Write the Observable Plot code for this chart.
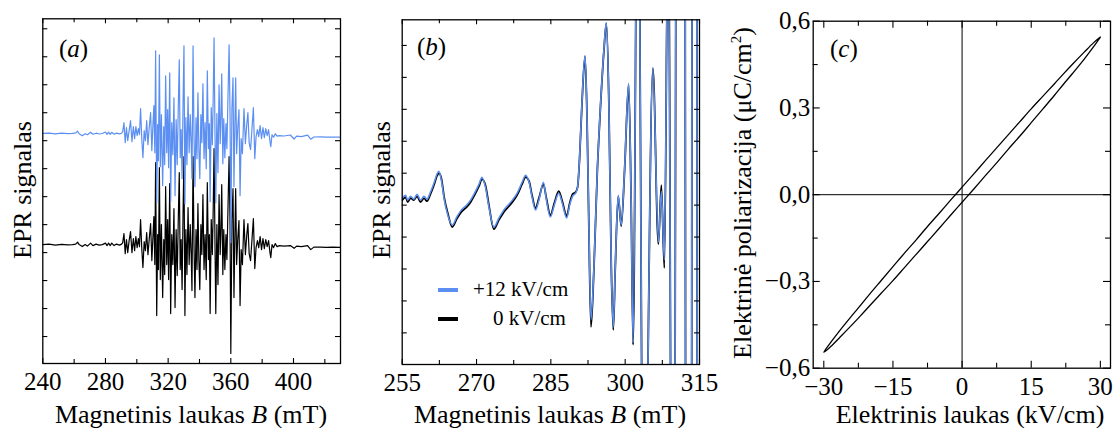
<!DOCTYPE html>
<html><head><meta charset="utf-8">
<script src="https://cdn.jsdelivr.net/npm/d3@7"></script>
<script src="https://cdn.jsdelivr.net/npm/@observablehq/plot@0.6"></script>
<style>
body{margin:0;background:#fff;}
#fig{position:relative;width:1114px;height:428px;font-family:"Liberation Serif","Times New Roman",serif;color:#000;overflow:hidden;}
.panel{position:absolute;top:0;}
.lab{position:absolute;font-size:25px;line-height:25px;white-space:nowrap;}
.title{font-size:26px;}
.legt{font-size:21px;line-height:21px;}
.rot{transform:translate(-50%,-50%) rotate(-90deg);}
.hc{transform:translateX(-50%);}
.leg{position:absolute;height:4px;width:20px;}
</style></head><body><div id="fig"></div>
<script>
const BLUE = "#5b8ff2";
// ---------- Panel (a): EPR spectra, full field range (arbitrary units) ----------
const fieldA = [240,244,248,252,256,259,261,262.2,263.2,265.2,267,268.5,270.5,272,274,276,278,280,281,282,283,284,285.5,287,289,290.3,
291.0,291.8,292.6,293.4,294.2,295.1,296.0,296.9,297.8,298.6,
299.4,300.2,301.0,301.7,302.4,303.2,303.9,304.7,305.5,306.3,
307.1,307.9,308.8,309.6,310.3,310.9,311.5,312.0,312.7,313.3,
313.8,314.4,315.0,315.7,316.5,317.2,317.8,318.4,319.1,319.7,
320.3,321.0,321.6,322.3,323.0,323.7,324.4,325.1,325.8,326.4,
327.1,327.7,328.3,328.9,329.5,330.1,330.7,331.3,332.0,332.7,
333.4,334.1,334.7,335.2,335.9,336.5,337.1,337.8,338.4,339.0,
339.6,340.2,340.9,341.5,342.2,342.9,343.6,344.3,345.0,345.7,
346.3,346.8,347.5,348.2,348.7,349.3,349.9,350.4,351.1,351.8,
352.5,353.2,353.7,354.2,354.9,355.5,356.2,356.9,357.5,358.1,
358.9,359.5,360.0,360.7,361.4,362.0,362.6,363.1,363.7,364.4,
365.2,365.9,366.6,367.4,368.4,369.3,370.2,370.9,371.7,372.6,
373.5,374.4,375.3,376.1,377.0,377.8,378.7,379.6,380.5,381.4,
382.3,383.2,384.1,385.0,385.5,
386.3,387.3,388.4,389.5,391,394,398,400.4,402,405,409,411,413,417,421,425,430];
// 0 kV/cm (black)
const signalA0 = [0,0.5,-0.5,0.3,-0.3,0,0.5,2.5,0,-2,0,-1.5,1.5,-1,0.5,-0.5,0,1.5,-1,1.5,-1,1.5,-1,0.5,-0.5,0.5,
2,11,-9,5,-8,4,13,-8,6,-6,
8,-3,6,-2,25,-5,-23,3,-6,12,
-10,5,21,-16,8,28,-20,82,-71,10,
-25,77,-35,20,-53,5,-30,58,-20,25,
-35,61,-69,10,-20,36,-63,15,-31,20,
72,-25,5,-45,30,88,-71,15,-30,37,
-20,20,-10,-46,88,0,-53,15,-25,41,
-15,-45,20,-10,50,-25,10,-35,62,-15,
10,-69,25,-10,30,96,0,-69,20,-40,
50,-10,15,60,-30,15,-25,10,-15,30,
88,20,-109,25,56,-53,10,56,-20,5,
24,-61,-5,-20,25,-10,10,21,-9,-16,
5,26,-24,-3,4,-3,8,-5,6,-4,
5,-2,4,-8,-13,
0,-3,1,-2,-1,-1.5,-1,-3.7,-1.5,-2,-1,-5,-2.5,-2.5,-2.7,-2.6,-2.7];
// +12 kV/cm (blue, drawn shifted upward)
const signalA12 = [111.3,111.6,110.9,111.5,111,111.3,111.8,113.5,111,109,111,110,112.5,110.5,111.5,110.7,111.2,112.7,110.3,112.5,110.3,112.4,110.5,111.6,110.8,111.5,
113,122,102,117,104,114,124,103,118,106,
118,109,116,110,136,105,87,114,104,124,
100,117,132,94,120,139,92,194,42,120,
84,190,78,130,59,118,80,169,92,135,
77,172,43,122,90,147,49,125,80,132,
185,87,115,66,140,199,41,127,80,148,
92,130,102,66,199,110,58,127,86,152,
97,66,130,102,161,86,122,76,174,96,
121,43,137,100,142,207,111,42,131,72,
160,101,127,171,81,126,87,121,96,141,
200,131,2,136,167,58,121,167,91,116,
135,49,106,91,136,101,121,132,102,95,
116,137,86,108,115,108,119,106,117,107,
116,109,115,103,98,
110,107.5,111,108.5,109,108.7,109.7,105.7,108.5,108,109.5,105.5,107.7,107.8,107.6,107.5,107.5];
const xMajorA = [240,280,320,360,400];
const xMinorA = [260,300,340,380,420];
const yTicksA = [-92,-64,-36,-8,20,48,76,104,132,160,188,216];

// ---------- Panel (b): zoomed low-field part ----------
const fieldB = [255.0,255.7,256.1,256.7,257.35,258.0,258.7,259.4,260.0,260.7,261.4,262.1,262.4,262.9,263.5,264.2,265.1,266.0,266.9,268.0,268.8,269.6,270.5,271.1,271.8,272.5,273.5,274.5,275.5,276.9,278.2,279.2,279.9,280.6,281.2,281.9,282.6,283.5,284.1,284.9,285.7,286.6,287.3,288.2,288.8,289.4,290.0,290.4,290.8,291.3,291.9,292.3,292.7,293.1,293.7,294.4,295.0,295.7,296.2,296.7,297.2,297.6,298.0,298.6,299.2,299.9,300.7,301.2,301.6,302.55,303.75,305.6,306.7,307.3,307.9,308.7,309.65,311.4,312.9,314.0,315.0];
const signalB12 = [2,5,0,4,1,6,0,4,1,8,17,27,29,20,0,-15,-25,-17,-10,-5,0,7,16,23,13,-7,-27,-18,-10,-2,7,18,25,18,3,-10,0,18,0,-17,-5,7,-3,-18,-5,4,7,13,43,100,145,83,-33,-120,-67,33,93,150,178,100,-67,-127,-67,5,-25,33,117,0,-143,400,-400,133,-42,9,-60,300,-700,3000,-3000,3000,-3000];
const signalB0 = [0,3,-2,2,0,4,-2,2,-1,6,15,25,27,22,2,-13,-27,-19,-12,-7,-2,5,14,21,15,-5,-29,-20,-12,-4,5,16,23,19,5,-8,2,16,2,-15,-3,9,-1,-16,-3,6,8,13,42,99,144,83,-35,-127,-68,32,92,149,177,100,-68,-130,-68,4,-26,32,116,0,-145,400,-400,132,-44,15,-68,300,-700,3000,-3000,3000,-3000];
const xMajorB = [255,270,285,300,315];
const xMinorB = [262.5,277.5,292.5,307.5];
const yTicksB = [155,123,91,59,27,-5,-37,-69,-101,-133];
const legendB = ["+12 kV/cm", "0 kV/cm"];

// ---------- Panel (c): P–E hysteresis loop ----------
const fieldC = [30,28.5,26.5,24,22,20,17.5,15,12.5,10,7.5,5,2.5,0,-2.5,-5,-7.5,-10,-12.5,-15,-17.5,-20,-22,-24,-26.5,-28.5,-30,
-28.5,-26.5,-24,-22,-20,-17.5,-15,-12.5,-10,-7.5,-5,-2.5,0,2.5,5,7.5,10,12.5,15,17.5,20,22,24,26.5,28.5,30];
const polarC = [0.545,0.525,0.493,0.452,0.418,0.383,0.340,0.297,0.252,0.207,0.162,0.117,0.071,0.026,-0.019,-0.065,-0.110,-0.157,-0.202,-0.249,-0.296,-0.343,-0.382,-0.420,-0.469,-0.511,-0.545,
-0.525,-0.493,-0.452,-0.418,-0.383,-0.340,-0.297,-0.252,-0.207,-0.162,-0.117,-0.071,-0.026,0.019,0.065,0.110,0.157,0.202,0.249,0.296,0.343,0.382,0.420,0.469,0.511,0.545];
const xMajorC = [-30,-15,0,15,30];
const xMinorC = [-22.5,-7.5,7.5,22.5];
const yMajorC = [-0.6,-0.3,0,0.3,0.6];
const yMinorC = [-0.45,-0.15,0.15,0.45];

const panelLetters = ["a","b","c"];
const xTitles = ["Magnetinis laukas <i>B</i> (mT)", "Magnetinis laukas <i>B</i> (mT)", "Elektrinis laukas (kV/cm)"];
const yTitles = ["EPR signalas", "EPR signalas", "Elektrinė poliarizacija (μC/cm<sup style=\"font-size:15px;vertical-align:10px;line-height:0\">2</sup>)"];

const fig = document.getElementById("fig");
const FONT = "'Liberation Serif','Times New Roman',serif";
const fmtComma = d => (d < 0 ? "\u2212" : "") + Math.abs(d).toFixed(1).replace(".", ",");
const fmtInt = d => (d < 0 ? "\u2212" : "") + Math.abs(d);

function ticks(xs, ys, fw, fh, len) {
  const s = {stroke: "black", strokeWidth: 1.1};
  const m = [];
  if (xs.length) {
    m.push(Plot.tickX(xs, {x: d => d, insetTop: fh - len, ...s}));
    m.push(Plot.tickX(xs, {x: d => d, insetBottom: fh - len, ...s}));
  }
  if (ys.length) {
    m.push(Plot.tickY(ys, {y: d => d, insetLeft: fw - len, ...s}));
    m.push(Plot.tickY(ys, {y: d => d, insetRight: fw - len, ...s}));
  }
  return m;
}
function mount(svg, left) {
  const d = document.createElement("div");
  d.className = "panel";
  d.style.left = left + "px";
  svg.style.overflow = "visible";
  d.appendChild(svg);
  fig.appendChild(d);
}
function label(html, x, y, cls) {
  const d = document.createElement("div");
  d.className = "lab " + (cls || "");
  d.innerHTML = html;
  d.style.left = x + "px";
  d.style.top = y + "px";
  fig.appendChild(d);
}
const style = {fontFamily: FONT, fontSize: "25px", background: "transparent", color: "black", overflow: "visible"};

// Panel (a)
{
  const W = 370, H = 428, ml = 42.3, mr = 30, mt = 18.3, mb = 65;
  const fw = W - ml - mr, fh = H - mt - mb;
  const data = fieldA.map((b, i) => ({b, s0: signalA0[i], s12: signalA12[i]}));
  const svg = Plot.plot({
    width: W, height: H, marginLeft: ml, marginRight: mr, marginTop: mt, marginBottom: mb,
    style,
    x: {domain: [240, 430]},
    y: {domain: [-119, 226], axis: null},
    marks: [
      Plot.line(data, {x: "b", y: "s0", stroke: "black", strokeWidth: 1.2, clip: true}),
      Plot.line(data, {x: "b", y: "s12", stroke: BLUE, strokeWidth: 1.2, clip: true}),
      ...ticks(xMajorA, yTicksA, fw, fh, 5),
      ...ticks(xMinorA, [], fw, fh, 4),
      Plot.axisX({ticks: xMajorA, tickSize: 0, tickPadding: 9, label: null, tickFormat: fmtInt}),
      Plot.frame({stroke: "black", strokeWidth: 1.3})
    ]
  });
  mount(svg, 0);
}
// Panel (b)
{
  const W = 340, H = 428, ml = 31.7, mr = 11, mt = 19.3, mb = 64;
  const fw = W - ml - mr, fh = H - mt - mb;
  const data = fieldB.map((b, i) => ({b, s0: signalB0[i], s12: signalB12[i]}));
  const svg = Plot.plot({
    width: W, height: H, marginLeft: ml, marginRight: mr, marginTop: mt, marginBottom: mb,
    style,
    x: {domain: [255, 315]},
    y: {domain: [-164.7, 180.7], axis: null},
    marks: [
      Plot.line(data, {x: "b", y: "s0", stroke: "black", strokeWidth: 1.8, curve: "monotone-x", clip: true}),
      Plot.line(data, {x: "b", y: "s12", stroke: BLUE, strokeWidth: 1.5, curve: "monotone-x", clip: true}),
      ...ticks(xMajorB, yTicksB, fw, fh, 5),
      ...ticks(xMinorB, [], fw, fh, 4),
      Plot.axisX({ticks: xMajorB, tickSize: 0, tickPadding: 9, label: null, tickFormat: fmtInt}),
      Plot.frame({stroke: "black", strokeWidth: 1.3})
    ]
  });
  mount(svg, 370);
}
// Panel (c)
{
  const W = 394, H = 428, ml = 92.7, mr = 4, mt = 20.7, mb = 60.3;
  const fw = W - ml - mr, fh = H - mt - mb;
  const data = fieldC.map((e, i) => ({e, p: polarC[i]}));
  const svg = Plot.plot({
    width: W, height: H, marginLeft: ml, marginRight: mr, marginTop: mt, marginBottom: mb,
    style,
    x: {domain: [-32.3, 32.2]},
    y: {domain: [-0.6, 0.6]},
    marks: [
      Plot.ruleX([0], {stroke: "black", strokeWidth: 1}),
      Plot.ruleY([0], {stroke: "black", strokeWidth: 1}),
      Plot.line(data, {x: "e", y: "p", stroke: "black", strokeWidth: 1.3, curve: "catmull-rom"}),
      ...ticks(xMajorC, yMajorC, fw, fh, 7),
      ...ticks(xMinorC, yMinorC, fw, fh, 5),
      Plot.axisX({ticks: xMajorC, tickSize: 0, tickPadding: 9, label: null, tickFormat: fmtInt}),
      Plot.axisY({ticks: yMajorC, tickSize: 0, tickPadding: 3, label: null, tickFormat: fmtComma}),
      Plot.frame({stroke: "black", strokeWidth: 1.3})
    ]
  });
  mount(svg, 720);
}

// Panel letters
label("(<i>" + panelLetters[0] + "</i>)", 59, 36);
label("(<i>" + panelLetters[1] + "</i>)", 417, 34);
label("(<i>" + panelLetters[2] + "</i>)", 830, 36);
// Axis titles
label(xTitles[0], 191, 402, "title hc");
label(xTitles[1], 550, 402, "title hc");
label(xTitles[2], 970, 402, "title hc");
label(yTitles[0], 22, 190, "title rot");
label(yTitles[1], 381, 190, "title rot");
label(yTitles[2], 742, 193, "title rot");
// Legend (b)
{
  const cols = [BLUE, "black"];
  const ys = [290, 319];
  const xs = [473, 493];
  legendB.forEach((t, i) => {
    const seg = document.createElement("div");
    seg.className = "leg";
    seg.style.background = cols[i];
    seg.style.left = "438px";
    seg.style.top = (ys[i] - 2) + "px";
    fig.appendChild(seg);
    label(t, xs[i], ys[i] - 11, "legt");
  });
}
</script></body></html>
